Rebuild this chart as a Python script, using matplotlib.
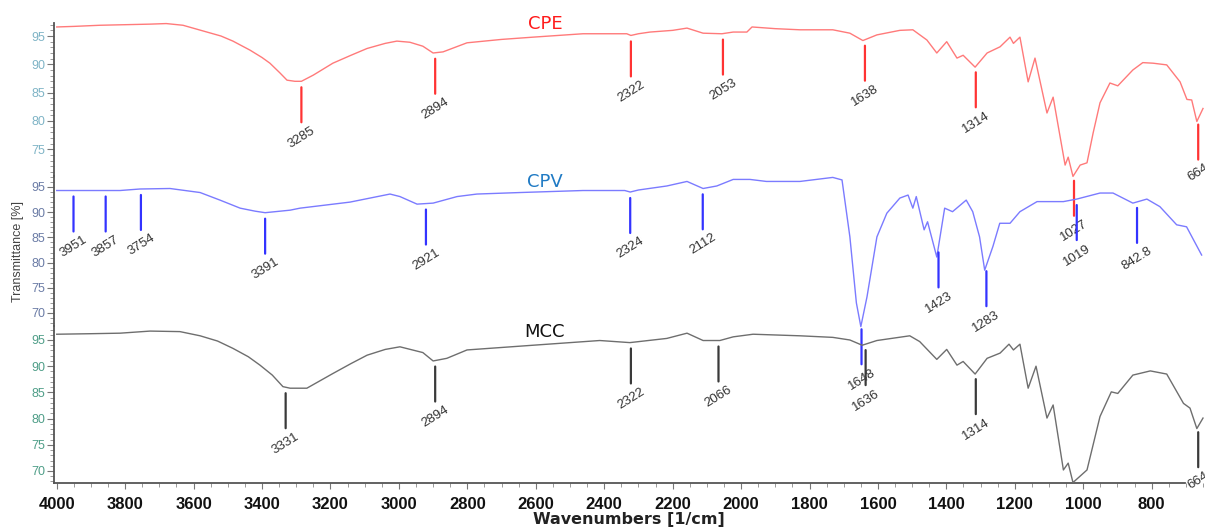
import numpy as np
import matplotlib
matplotlib.use("Agg")
import matplotlib.pyplot as plt
from matplotlib.ticker import MultipleLocator

# ---------------- data ----------------
cpe_wn = [4000, 3950, 3874, 3800, 3727, 3680, 3631, 3561, 3520, 3485, 3435, 3400, 3377, 3348, 3327, 3304, 3285, 3250,
          3193, 3140, 3093, 3040, 3006, 2968, 2930, 2900, 2871, 2801, 2700, 2608, 2462, 2334, 2322, 2300, 2266, 2200,
          2158, 2111, 2056, 2023, 1983, 1968, 1900, 1828, 1732, 1682, 1644, 1603, 1536, 1498, 1457, 1428,
          1399, 1369, 1351, 1316, 1281, 1243, 1214, 1204, 1185, 1161, 1141, 1106, 1088, 1053, 1044, 1030,
          1009, 989, 971, 951, 922, 899, 855, 826, 796, 756, 717, 697, 683, 668, 650]
cpe_t = [96.6, 96.7, 96.9, 97.0, 97.1, 97.2, 96.9, 95.7, 95.0, 94.1, 92.5, 91.2, 90.2, 88.5, 87.2, 87.0, 87.0, 88.1,
         90.2, 91.6, 92.8, 93.7, 94.1, 93.9, 93.2, 92.0, 92.2, 93.8, 94.4, 94.8, 95.4, 95.4, 95.1, 95.4, 95.7, 96.0,
         96.4, 95.5, 95.4, 95.7, 95.7, 96.6, 96.3, 96.1, 96.1, 95.5, 94.2, 95.2, 96.0, 96.1, 94.3, 92.0,
         94.0, 91.1, 91.6, 89.5, 92.0, 93.1, 94.8, 93.7, 94.8, 86.9, 91.1, 81.4, 84.2, 72.2, 73.6, 70.2,
         72.2, 72.6, 77.9, 83.2, 86.7, 86.2, 89.0, 90.3, 90.2, 89.9, 86.9, 83.8, 83.7, 79.9, 82.2]

cpv_wn = [4000, 3900, 3815, 3757, 3669, 3581, 3523, 3464, 3420, 3391, 3318, 3289, 3143, 3026, 2997, 2947, 2900,
          2830, 2772, 2646, 2462, 2340, 2324, 2300, 2217, 2158, 2111, 2071, 2023, 1974, 1926, 1828, 1732,
          1705, 1682, 1663, 1650, 1632, 1603, 1574, 1536, 1512, 1498, 1488, 1465, 1455, 1428, 1405, 1382,
          1342, 1323, 1303, 1288, 1264, 1244, 1214, 1185, 1135, 1058, 1019, 951, 913, 855, 814, 776,
          727, 698, 654]
cpv_t = [94.3, 94.3, 94.3, 94.6, 94.7, 93.9, 92.4, 90.8, 90.2, 89.9, 90.4, 90.8, 92.0, 93.6, 93.1, 91.6, 91.8,
         93.1, 93.6, 93.9, 94.3, 94.3, 94.0, 94.4, 95.2, 96.1, 94.7, 95.2, 96.5, 96.5, 96.1, 96.1, 96.9,
         96.4, 85.1, 72.0, 67.3, 73.2, 85.1, 89.8, 92.8, 93.4, 90.8, 93.1, 86.5, 88.1, 81.1, 90.8, 90.1,
         92.4, 90.1, 85.1, 78.5, 83.2, 87.8, 87.8, 90.1, 92.1, 92.1, 92.6, 93.8, 93.8, 91.8, 92.6, 91.1,
         87.5, 87.1, 81.5]

mcc_wn = [4000, 3900, 3815, 3727, 3640, 3581, 3530, 3485, 3440, 3406, 3370, 3339, 3318, 3269, 3193, 3140, 3093,
          3040, 2997, 2930, 2900,
          2860, 2801, 2608, 2413, 2325, 2217, 2158, 2111, 2062, 2023, 1965, 1828, 1732, 1682, 1646, 1603,
          1507, 1478, 1428, 1399, 1369, 1351, 1316, 1281, 1243, 1217, 1204, 1185, 1161, 1138, 1106, 1088,
          1058, 1044, 1030, 989, 951, 918, 899, 855, 804, 756, 707, 688, 668, 650]
mcc_t = [96.1, 96.2, 96.3, 96.7, 96.6, 95.8, 94.8, 93.4, 91.8, 90.2, 88.3, 86.1, 85.8, 85.8, 88.6, 90.5, 92.1,
         93.2, 93.7, 92.6, 91.0,
         91.5, 93.1, 94.0, 94.9, 94.5, 95.3, 96.3, 94.9, 94.9, 95.6, 96.1, 95.8, 95.5, 95.0, 94.0, 94.9,
         95.8, 94.7, 91.3, 93.2, 90.2, 90.9, 88.5, 91.5, 92.5, 94.2, 93.1, 94.2, 85.8, 90.0, 80.1, 82.6,
         70.2, 71.5, 67.8, 70.2, 80.4, 85.1, 84.8, 88.3, 89.1, 88.5, 82.9, 82.0, 78.1, 80.1]

cpe_peaks = [3285, 2894, 2322, 2053, 1638, 1314, 1027, 664]
cpe_labels = ["3285", "2894", "2322", "2053", "1638", "1314", "1027", "664"]
cpv_peaks = [3951, 3857, 3754, 3391, 2921, 2324, 2112, 1648, 1423, 1283, 1019, 842.8]
cpv_labels = ["3951", "3857", "3754", "3391", "2921", "2324", "2112", "1648", "1423", "1283", "1019", "842.8"]
mcc_peaks = [3331, 2894, 2322, 2066, 1636, 1314, 664]
mcc_labels = ["3331", "2894", "2322", "2066", "1636", "1314", "664"]

series_names = ["CPE", "CPV", "MCC"]
x_ticks = [4000, 3800, 3600, 3400, 3200, 3000, 2800, 2600, 2400, 2200, 2000, 1800, 1600, 1400, 1200, 1000, 800]

# ---------------- figure ----------------
W, H = 1205, 528
fig = plt.figure(figsize=(W / 100, H / 100), dpi=100)

def add_ax(ytop, ybot):
    return fig.add_axes([54 / W, 1 - ybot / H, (1203 - 54) / W, (ybot - ytop) / H])

ax_top = add_ax(23, 176)
ax_mid = add_ax(176, 326)
ax_bot = add_ax(326, 483)
axes = [ax_top, ax_mid, ax_bot]
ylims = [(70.27, 97.3), (67.42, 97.18), (67.71, 97.67)]
line_cols = ["#ff7a7a", "#7b7bff", "#6e6e6e"]
mark_cols = ["#ff3333", "#3333ff", "#3a3a3a"]
tick_cols = ["#7fb4c6", "#6b7ca6", "#4f9e88"]
title_cols = ["#ff1a1a", "#1f7ac4", "#111111"]
data = [(cpe_wn, cpe_t, cpe_peaks, cpe_labels),
        (cpv_wn, cpv_t, cpv_peaks, cpv_labels),
        (mcc_wn, mcc_t, mcc_peaks, mcc_labels)]

for i, ax in enumerate(axes):
    wn, tr, pk, lb = data[i]
    ax.set_xlim(4008, 650)
    ax.set_ylim(*ylims[i])
    ax.patch.set_alpha(0)
    ax.plot(wn, tr, color=line_cols[i], lw=1.0, clip_on=False, zorder=3)
    for s in ["top", "right"]:
        ax.spines[s].set_visible(False)
    ax.spines["left"].set_color("#555555")
    ax.spines["left"].set_linewidth(1.3)
    ax.yaxis.set_major_locator(MultipleLocator(5))
    ax.yaxis.set_minor_locator(MultipleLocator(1))
    ax.tick_params(axis="y", which="major", length=5, width=0.8, color="#777777",
                   labelcolor=tick_cols[i], labelsize=9, pad=1)
    ax.tick_params(axis="y", which="minor", length=3, width=0.7, color="#999999")
    for t in ax.get_yticklabels():
        t.set_fontfamily("Liberation Sans")
    if i < 2:
        ax.spines["bottom"].set_visible(False)
        ax.tick_params(axis="x", which="both", bottom=False, labelbottom=False)
    # title
    ax.text(0.4273, [0.993, 0.96, 0.962][i], series_names[i], transform=ax.transAxes,
            ha="center", va="center", fontsize=13, color=title_cols[i], family="DejaVu Sans", zorder=5)
    # peak markers
    wn_r = np.array(wn[::-1], dtype=float)
    tr_r = np.array(tr[::-1], dtype=float)
    for p, l in zip(pk, lb):
        v = float(np.interp(p, wn_r, tr_r))
        ax.annotate("", xy=(p, v), xytext=(0, -29.5), textcoords="offset points",
                    arrowprops=dict(arrowstyle="-", color=mark_cols[i], lw=1.6,
                                    shrinkA=0, shrinkB=4.3), annotation_clip=False, zorder=4)
        ax.annotate(l, xy=(p, v), xytext=(0, -31), textcoords="offset points",
                    ha="center", va="top", rotation=32, fontsize=9.5, color="#333333",
                    family="Liberation Sans", annotation_clip=False, zorder=4)

ax_bot.spines["bottom"].set_color("#555555")
ax_bot.spines["bottom"].set_linewidth(1.3)
ax_bot.spines["bottom"].set_bounds(4008, 703)
ax_bot.set_xticks(x_ticks)
ax_bot.xaxis.set_minor_locator(MultipleLocator(50))
ax_bot.tick_params(axis="x", which="major", length=4, width=0.8, color="#777777", pad=6)
ax_bot.tick_params(axis="x", which="minor", length=3, width=0.7, color="#999999")
for t in ax_bot.get_xticklabels():
    t.set_fontfamily("Liberation Sans")
    t.set_fontweight("bold")
    t.set_fontsize(12)
    t.set_color("#111111")
ax_bot.set_xlabel("Wavenumbers [1/cm]", fontsize=11.5, fontweight="bold", family="DejaVu Sans",
                  color="#222222", labelpad=0)

fig.text(18 / W, 1 - 252 / H, "Transmittance [%]", rotation=90, ha="center", va="center",
         fontsize=9, color="#444444", family="Liberation Sans")

fig.savefig("out.png", dpi=100)
